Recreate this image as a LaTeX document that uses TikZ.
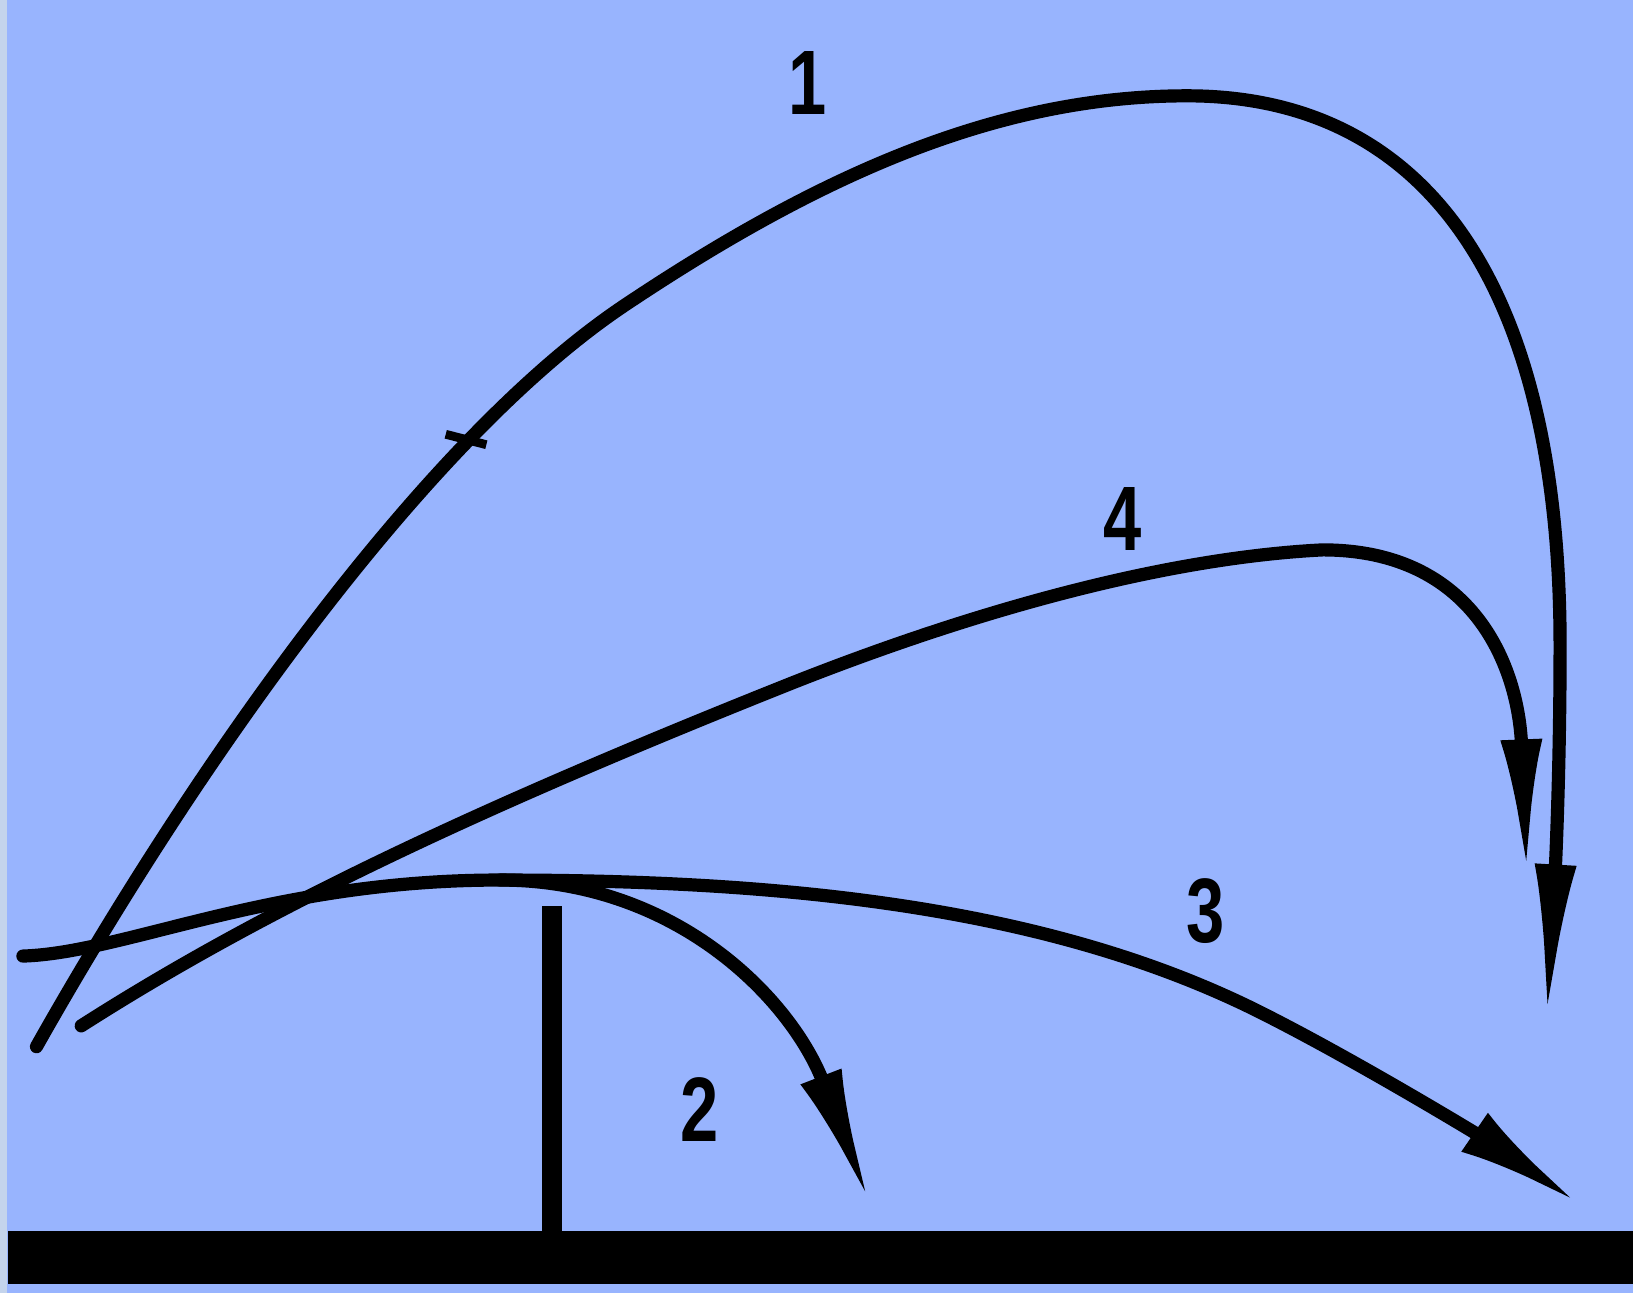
\documentclass[tikz,border=0pt]{standalone}
\usepackage{fontspec}
\setmainfont{Liberation Sans}
\usepackage{tikz}
\usetikzlibrary{arrows.meta}
\definecolor{skyback}{RGB}{152,180,254}
\definecolor{edgestrip}{RGB}{196,212,236}

\begin{document}
\begin{tikzpicture}[x=0.01cm, y=-0.01cm,
    trajline/.style={line width=3.6pt, line cap=round, line join=round},
    numlbl/.style={font=\fontsize{25}{25}\selectfont\bfseries, inner sep=0pt}]
    \def\netx{530}; % net post x coordinate
    \def\nettop{870}; % net post top
    \def\groundy{1182}; % ground top

    % background %%%%%%%%%%%%%%%%%%%%%%%%%%%%%%%%%%%%%%%%%%%%%%%%%%%%%%%%%%%%%%%%%%%%%%%%%%%%%%
    \fill[skyback] (0,0) rectangle (1568,1242);
    \fill[edgestrip] (0,0) rectangle (7,1242);
    \useasboundingbox (0,0) rectangle (1568,1242);

    % ground and net %%%%%%%%%%%%%%%%%%%%%%%%%%%%%%%%%%%%%%%%%%%%%%%%%%%%%%%%%%%%%%%%%%%%%%%%%%
    \fill[black] (8,\groundy) rectangle (1568,1233);
    \draw[line width=5.5pt] (\netx,\nettop) -- (\netx,\groundy+4);

    % trajectory 1 %%%%%%%%%%%%%%%%%%%%%%%%%%%%%%%%%%%%%%%%%%%%%%%%%%%%%%%%%%%%%%%%%%%%%%%%%%%%
    \draw[trajline, -{Latex[length=15mm, width=4mm]}] (35,1005)
        .. controls (190,730) and (410,420) .. (600,293)
        .. controls (790,166) and (960,92) .. (1140,92)
        .. controls (1360,92) and (1498,260) .. (1498,620)
        .. controls (1498,760) and (1492,860) .. (1485,980);
    \draw[line width=2.4pt] (428,417) -- (467,427);
    % trajectory 4 %%%%%%%%%%%%%%%%%%%%%%%%%%%%%%%%%%%%%%%%%%%%%%%%%%%%%%%%%%%%%%%%%%%%%%%%%%%%
    \draw[trajline, -{Latex[length=13mm, width=4mm]}] (78,985)
        .. controls (250,875) and (450,780) .. (750,660)
        .. controls (950,580) and (1130,535) .. (1270,528)
        .. controls (1415,528) and (1458,640) .. (1466,840);
    % trajectory 3 %%%%%%%%%%%%%%%%%%%%%%%%%%%%%%%%%%%%%%%%%%%%%%%%%%%%%%%%%%%%%%%%%%%%%%%%%%%%
    \draw[trajline, -{Latex[length=12mm, width=4.5mm]}] (22,918)
        .. controls (120,915) and (260,845) .. (480,845)
        .. controls (750,845) and (1000,870) .. (1200,967)
        .. controls (1290,1011) and (1420,1090) .. (1515,1155);
    % trajectory 2 %%%%%%%%%%%%%%%%%%%%%%%%%%%%%%%%%%%%%%%%%%%%%%%%%%%%%%%%%%%%%%%%%%%%%%%%%%%%
    \draw[trajline, -{Latex[length=13mm, width=4.2mm]}] (480,845)
        .. controls (650,845) and (760,960) .. (835,1155);

    % annotations %%%%%%%%%%%%%%%%%%%%%%%%%%%%%%%%%%%%%%%%%%%%%%%%%%%%%%%%%%%%%%%%%%%%%%%%%%%%%
    \node[numlbl] (lblone) at (775,80) {\scalebox{0.75}[1]{1}};
    \node[numlbl] (lblfour) at (1078,498) {\scalebox{0.75}[1]{4}};
    \node[numlbl] (lblthree) at (1158,875) {\scalebox{0.75}[1]{3}};
    \node[numlbl] (lbltwo) at (672,1065) {\scalebox{0.75}[1]{2}};
\end{tikzpicture}
\end{document}
